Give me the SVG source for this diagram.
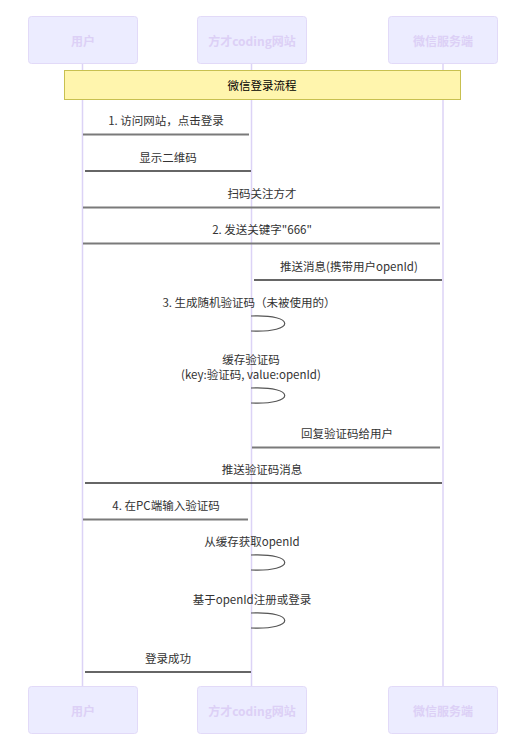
<svg xmlns="http://www.w3.org/2000/svg" width="516" height="754" viewBox="0 0 516 754">
<style>
text{font-family:"Noto Sans CJK SC","Liberation Sans",sans-serif;}
.actor{fill:#ECECFF;stroke:#E2DAF8;stroke-width:1;}
.atext{fill:#DCD0F6;font-size:12px;font-weight:bold;text-anchor:middle;dominant-baseline:central;}
.life{stroke:#DCD3F6;stroke-width:1.5;}
.msg{fill:#333;font-size:11.5px;text-anchor:middle;dominant-baseline:central;}
.l1{stroke:#7a7a7a;stroke-width:2;fill:none;}
.l2{stroke:#333;stroke-width:1.5;fill:none;}
.loop{stroke:#555;stroke-width:1.2;fill:none;}
</style>
<rect width="516" height="754" fill="#fff"/>
<g id="lifelines">
<line class="life" x1="82.5" y1="63" x2="82.5" y2="686"/>
<line class="life" x1="251.5" y1="63" x2="251.5" y2="686"/>
<line class="life" x1="443" y1="63" x2="443" y2="686"/>
</g>
<g id="actor-user-top"><rect class="actor" x="28.5" y="16.5" width="109" height="47" rx="3"/><text class="atext" x="83" y="40">用户</text></g>
<g id="actor-site-top"><rect class="actor" x="197.5" y="16.5" width="109" height="47" rx="3"/><text class="atext" x="252" y="40">方才coding网站</text></g>
<g id="actor-wx-top"><rect class="actor" x="388.5" y="16.5" width="109" height="47" rx="3"/><text class="atext" x="443" y="40">微信服务端</text></g>
<g id="actor-user-bottom"><rect class="actor" x="28.5" y="686.5" width="109" height="47" rx="3"/><text class="atext" x="83" y="710">用户</text></g>
<g id="actor-site-bottom"><rect class="actor" x="197.5" y="686.5" width="109" height="47" rx="3"/><text class="atext" x="252" y="710">方才coding网站</text></g>
<g id="actor-wx-bottom"><rect class="actor" x="388.5" y="686.5" width="109" height="47" rx="3"/><text class="atext" x="443" y="710">微信服务端</text></g>
<g id="note"><rect x="64.5" y="70.5" width="396" height="29" fill="#FFF5AD" stroke="#C8C050" stroke-width="1"/><text class="msg" x="262" y="85" style="fill:#000">微信登录流程</text></g>
<g id="connectors">
<line class="l1" x1="83" y1="134.5" x2="249" y2="134.5"/>
<line class="l2" x1="85" y1="171" x2="251" y2="171"/>
<line class="l1" x1="83" y1="207.5" x2="440" y2="207.5"/>
<line class="l1" x1="83" y1="243.5" x2="440" y2="243.5"/>
<line class="l2" x1="254" y1="280" x2="442" y2="280"/>
<path class="loop" d="M251,316 C296,314 296,333 251,331"/>
<path class="loop" d="M251,388 C296,386 296,405 251,403"/>
<line class="l1" x1="252" y1="447.5" x2="440" y2="447.5"/>
<line class="l2" x1="85" y1="483" x2="442" y2="483"/>
<line class="l1" x1="83" y1="519.5" x2="248" y2="519.5"/>
<path class="loop" d="M251,555 C296,553 296,572 251,570"/>
<path class="loop" d="M251,613 C296,611 296,630 251,628"/>
<line class="l2" x1="85" y1="672" x2="251" y2="672"/>
</g>
<g id="labels">
<text class="msg" x="166" y="120">1. 访问网站，点击登录</text>
<text class="msg" x="168" y="157">显示二维码</text>
<text class="msg" x="262" y="193">扫码关注方才</text>
<text class="msg" x="262" y="229">2. 发送关键字"666"</text>
<text class="msg" x="349" y="266">推送消息(携带用户openId)</text>
<text class="msg" x="249" y="302">3. 生成随机验证码（未被使用的）</text>
<text class="msg" x="251" y="359">缓存验证码</text>
<text class="msg" x="251" y="374">(key:验证码, value:openId)</text>
<text class="msg" x="347" y="433">回复验证码给用户</text>
<text class="msg" x="262" y="469">推送验证码消息</text>
<text class="msg" x="166" y="505">4. 在PC端输入验证码</text>
<text class="msg" x="252" y="541">从缓存获取openId</text>
<text class="msg" x="252" y="599">基于openId注册或登录</text>
<text class="msg" x="168" y="658">登录成功</text>
</g>
</svg>
